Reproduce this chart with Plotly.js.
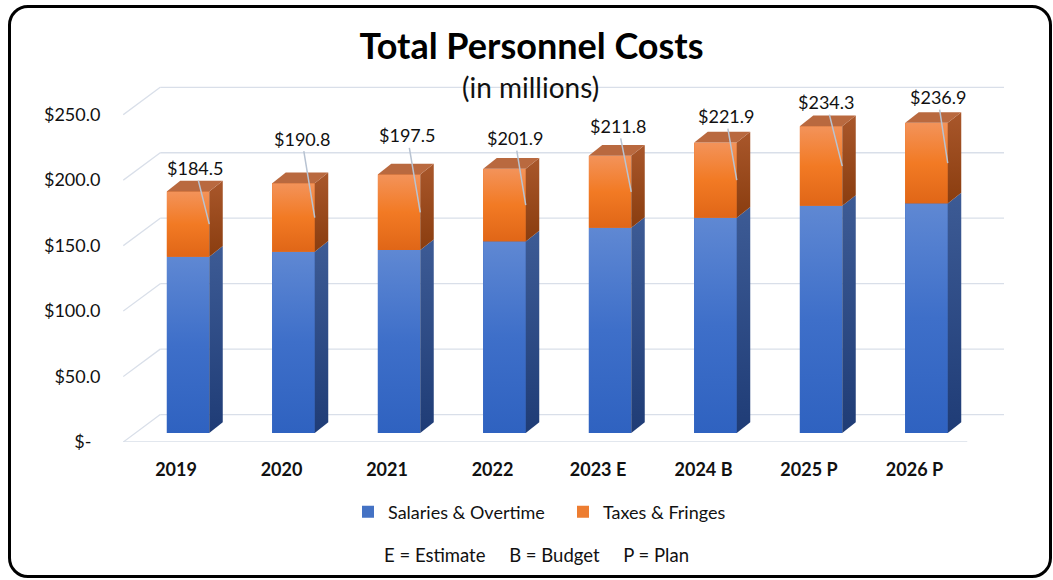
<!DOCTYPE html>
<html>
<head>
<meta charset="utf-8">
<script src="https://cdn.plot.ly/plotly-3.0.1.min.js"></script>
<style>
  html, body { margin:0; padding:0; background:#fff; }
  #wrap { position:relative; width:1053px; height:580px; }
  #chart { position:absolute; left:0; top:0; width:1053px; height:580px; }
  #frame { position:absolute; left:8px; top:5px; width:1044px; height:573px; box-sizing:border-box;
           border:3px solid #000; border-radius:20px; pointer-events:none; }
</style>
</head>
<body>
<div id="wrap"><div id="chart"></div><div id="frame"></div></div>
<script>
// ---- data ----
const categories = ['2019', '2020', '2021', '2022', '2023 E', '2024 B', '2025 P', '2026 P'];
const salaries   = [134.6, 138.4, 139.7, 146.3, 156.7, 164.4, 173.5, 175.4];
const taxes      = [49.9, 52.4, 57.8, 55.6, 55.1, 57.5, 60.8, 61.5];
const yTickVals  = [0, 50, 100, 150, 200, 250];
const yTickText  = ['$-\u2002', '$50.0', '$100.0', '$150.0', '$200.0', '$250.0'];
const seriesNames = ['Salaries & Overtime', 'Taxes & Fringes'];
const footnote = 'E = Estimate\u00a0\u00a0\u00a0\u00a0\u00a0B = Budget\u00a0\u00a0\u00a0\u00a0\u00a0P = Plan';

// ---- geometry (pixels) ----
const W = 1053, H = 580;
const G = { left: 123, right: 1004, top: 80, bottom: 441.7, k: 1.308, col0: 176, colW: 105.5 };
const FONT = 'Lato, "Open Sans", sans-serif';
const xr = [(G.left - G.col0) / G.colW, (G.right - G.col0) / G.colW];
const yr = [0, (G.bottom - G.top) / G.k];
const barShiftX = 12, barShiftY = 9;
const x2r = xr.map(v => v - barShiftX / G.colW);
const y2r = yr.map(v => v - barShiftY / G.k);
const backDx = 37 / G.colW, backDv = 27.4 / G.k;
const depDx = 13.5 / G.colW, depDv = 10.7 / G.k;
const barW = 42.5 / G.colW;

const idx = categories.map((c, i) => i);
const totals = idx.map(i => salaries[i] + taxes[i]);

// ---- wall / grid shapes ----
const gridColor = '#d9dfe9';
const shapes = [];
yTickVals.forEach(v => {
  shapes.push({ type: 'line', xref: 'x', yref: 'y', layer: 'below',
    x0: -0.5 + backDx, x1: xr[1], y0: v + backDv, y1: v + backDv,
    line: { color: gridColor, width: 1.3 } });
  shapes.push({ type: 'line', xref: 'x', yref: 'y', layer: 'below',
    x0: -0.5, x1: -0.5 + backDx, y0: v, y1: v + backDv,
    line: { color: gridColor, width: 1.3 } });
});
shapes.push({ type: 'line', xref: 'x', yref: 'y', layer: 'below',
  x0: -0.5, x1: 7.5, y0: 0, y1: 0, line: { color: gridColor, width: 1.3 } });

// ---- styles ----
const blue = '#4472c4', orange = '#ed7d31';
const frontGrad = [
  [[0, '#2f62c0'], [0.5, '#3e6fc9'], [1, '#5f88d3']],
  [[0, '#e06617'], [0.5, '#f27a24'], [1, '#f3935a']]
];
const sideGrad = [
  [[0, '#1f3c76'], [1, '#3d5b95']],
  [[0, '#8a3d0f'], [1, '#a9572b']]
];
const topColor = '#b9693f';

const traces = [
  { type: 'bar', name: seriesNames[0], x: idx, y: salaries, width: barW, xaxis: 'x2', yaxis: 'y2',
    marker: { color: blue }, hoverinfo: 'skip' },
  { type: 'bar', name: seriesNames[1], x: idx, y: taxes, width: barW, xaxis: 'x2', yaxis: 'y2',
    marker: { color: orange }, hoverinfo: 'skip' }
];

function poly(xs, ys, grad, lo, hi, solid) {
  const t = { type: 'scatter', mode: 'lines', x: xs, y: ys, xaxis: 'x2', yaxis: 'y2', fill: 'toself',
    line: { width: 0, color: 'rgba(0,0,0,0)' }, showlegend: false, hoverinfo: 'skip' };
  if (grad) t.fillgradient = { type: 'vertical', colorscale: grad, start: lo, stop: hi };
  else t.fillcolor = solid;
  return t;
}

idx.forEach(i => {
  const xL = i - barW / 2, xR = i + barW / 2;
  const segs = [[0, salaries[i]], [salaries[i], totals[i]]];
  segs.forEach((s, k) => {
    const [lo, hi] = s;
    traces.push(poly([xL, xR, xR, xL, xL], [lo, lo, hi, hi, lo], frontGrad[k], lo, hi));
    traces.push(poly([xR, xR + depDx, xR + depDx, xR, xR],
                     [lo, lo + depDv, hi + depDv, hi, lo], sideGrad[k], lo, hi + depDv));
  });
  const t = totals[i];
  traces.push(poly([xL, xR, xR + depDx, xL + depDx, xL], [t, t, t + depDv, t + depDv, t], null, 0, 0, topColor));
});

// invisible trace so the front axes are drawn
traces.push({ type: 'scatter', mode: 'markers', x: [0], y: [0], xaxis: 'x', yaxis: 'y',
  marker: { opacity: 0 }, showlegend: false, hoverinfo: 'skip' });

// ---- labels ----
const labelDx = [-14, -13, -13, -11, -13, -11, -16, -10];
const labelDy = [-56, -79, -77, -67, -66, -64, -64, -66];
const annotations = idx.map(i => ({
  xref: 'x2', yref: 'y2', x: i + barW / 2, y: salaries[i] + taxes[i] / 2,
  text: '$' + totals[i].toFixed(1), showarrow: true, arrowhead: 0, arrowwidth: 1.5,
  arrowcolor: '#b8c3d2', ax: labelDx[i], ay: labelDy[i], standoff: 0,
  font: { family: FONT, size: 18, color: '#111' }
}));
const pxX = px => (px - G.left) / (G.right - G.left);
const pxY = py => (G.bottom - py) / (G.bottom - G.top);
annotations.push({ xref: 'paper', yref: 'paper', x: pxX(530.5), y: pxY(87), xanchor: 'center', yanchor: 'middle',
  text: '(in millions)', showarrow: false, font: { family: FONT, size: 28, color: '#111' } });
annotations.push({ xref: 'paper', yref: 'paper', x: pxX(536), y: pxY(555), xanchor: 'center', yanchor: 'middle',
  text: footnote, showarrow: false, font: { family: FONT, size: 18.5, color: '#111' } });

const layout = {
  width: W, height: H, autosize: false,
  paper_bgcolor: '#fff', plot_bgcolor: 'rgba(0,0,0,0)',
  margin: { l: G.left, r: W - G.right, t: G.top, b: H - G.bottom, pad: 0 },
  font: { family: FONT, color: '#111' },
  title: { text: '<b>Total Personnel Costs</b>', font: { family: FONT, size: 36, color: '#000' },
    x: 531.5 / W, xanchor: 'center', xref: 'container', y: 1 - 46 / H, yanchor: 'middle', yref: 'container' },
  barmode: 'stack', showlegend: true,
  legend: { orientation: 'h', xref: 'container', yref: 'container', x: 348 / W, xanchor: 'left',
    y: 1 - 512 / H, yanchor: 'middle', font: { family: FONT, size: 18, color: '#111' },
    entrywidth: 170, entrywidthmode: 'pixels', traceorder: 'normal' },
  xaxis: { range: xr, tickmode: 'array', tickvals: idx, ticktext: categories.map(c => '<b>' + c + '</b>'),
    showgrid: false, zeroline: false, showline: false, ticks: 'outside', ticklen: 11,
    tickcolor: 'rgba(0,0,0,0)', tickfont: { family: FONT, size: 18, color: '#111' }, fixedrange: true },
  yaxis: { range: yr, tickmode: 'array', tickvals: yTickVals, ticktext: yTickText,
    showgrid: false, zeroline: false, showline: false, ticks: 'outside', ticklen: 18,
    tickcolor: 'rgba(0,0,0,0)', tickfont: { family: FONT, size: 18, color: '#111' }, fixedrange: true },
  xaxis2: { range: x2r, overlaying: 'x', visible: false, fixedrange: true },
  yaxis2: { range: y2r, overlaying: 'y', visible: false, fixedrange: true },
  shapes, annotations
};

Plotly.newPlot('chart', traces, layout, { displayModeBar: false, staticPlot: true });
</script>
</body>
</html>
